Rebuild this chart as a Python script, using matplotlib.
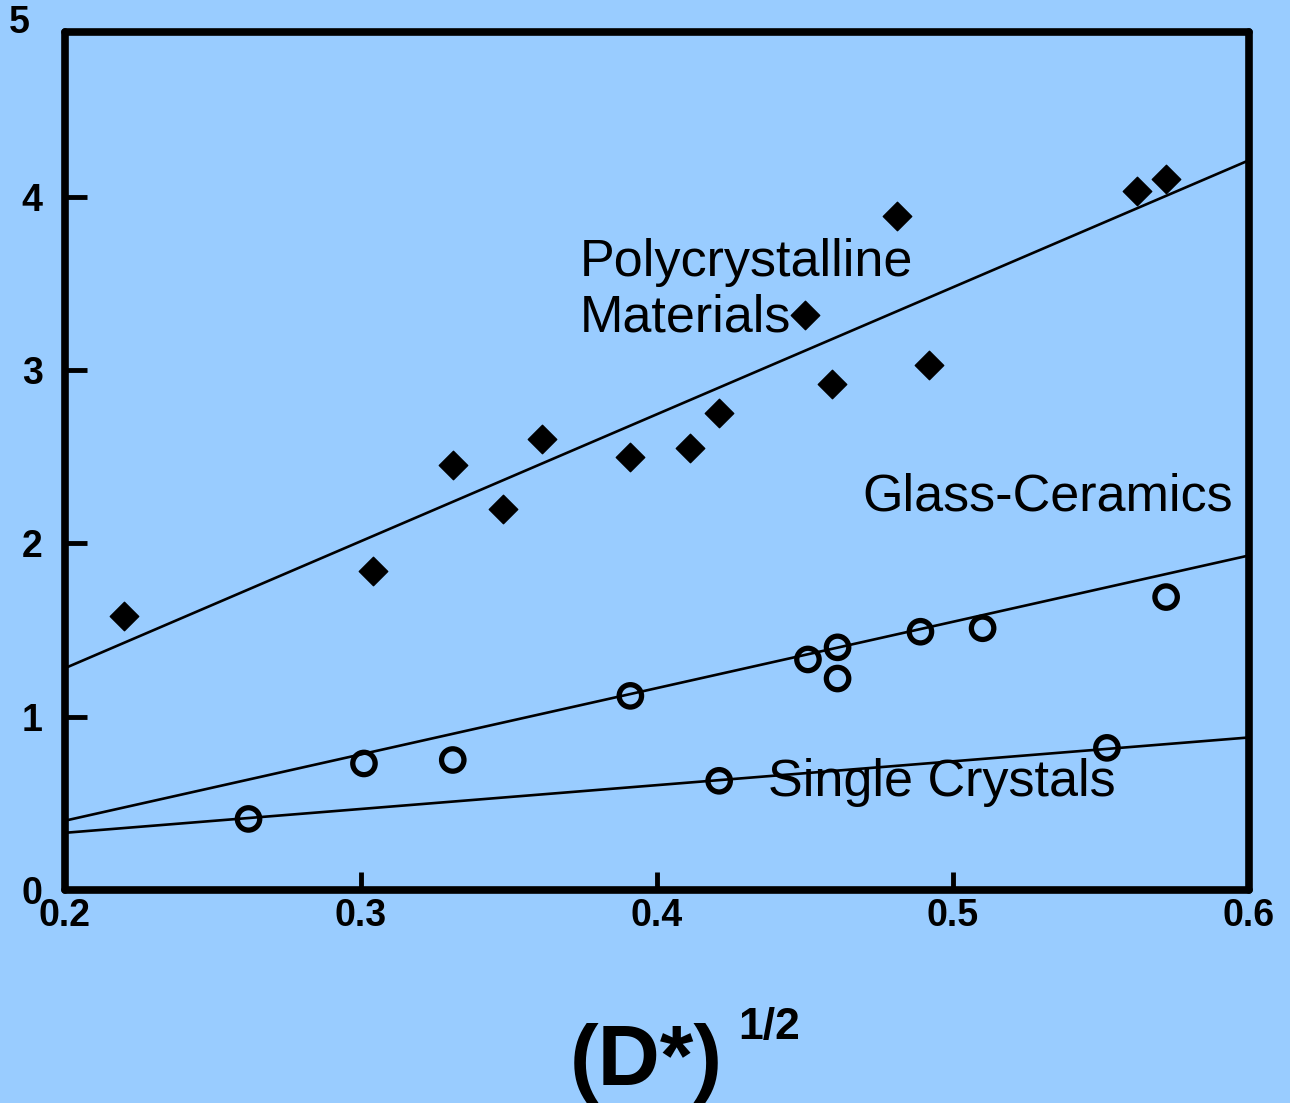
import numpy as np
import matplotlib
matplotlib.use("Agg")
import matplotlib.pyplot as plt

plt.rcParams["font.family"] = ["Liberation Sans", "DejaVu Sans"]

BG = "#99CCFF"

# Polycrystalline materials (diamonds)
poly_x = [0.220, 0.304, 0.331, 0.348, 0.361, 0.391, 0.411, 0.421, 0.450, 0.459, 0.481, 0.492, 0.562, 0.572]
poly_y = [1.58, 1.84, 2.45, 2.20, 2.60, 2.50, 2.55, 2.75, 3.32, 2.92, 3.89, 3.03, 4.03, 4.10]

# Glass-ceramics (open circles)
glass_x = [0.301, 0.331, 0.391, 0.451, 0.461, 0.461, 0.489, 0.510, 0.572]
glass_y = [0.73, 0.75, 1.12, 1.33, 1.40, 1.22, 1.49, 1.51, 1.69]

# Single crystals (open circles)
single_x = [0.262, 0.421, 0.552]
single_y = [0.41, 0.63, 0.82]

# fitted lines as drawn: (value at x=0.2, value at x=0.6)
line_x = [0.2, 0.6]
poly_line = [1.28, 4.21]
glass_line = [0.40, 1.93]
single_line = [0.33, 0.88]

fig = plt.figure(figsize=(12.9, 11.03), dpi=100, facecolor=BG)
ax = fig.add_axes([65 / 1290, 1 - 890 / 1103, (1249 - 65) / 1290, (890 - 32) / 1103])
ax.set_facecolor(BG)

for yl in (poly_line, glass_line, single_line):
    ax.plot(line_x, yl, color="black", lw=1.9, zorder=2)

ax.scatter(poly_x, poly_y, marker="D", s=210, color="black", zorder=3)
ax.scatter(glass_x + single_x, glass_y + single_y, marker="o", s=260,
           facecolors="none", edgecolors="black", linewidths=3.8, zorder=3)

ax.set_xlim(0.2, 0.6)
ax.set_ylim(0, 4.95)
ax.set_xticks([0.2, 0.3, 0.4, 0.5, 0.6])
ax.set_xticklabels(["0.2", "0.3", "0.4", "0.5", "0.6"])
ax.set_yticks([0, 1, 2, 3, 4])
ax.set_yticklabels(["0", "1", "2", "3", "4"])
ax.tick_params(axis="x", direction="in", length=13, width=3.5, pad=6,
               labelsize=27)
ax.tick_params(axis="y", direction="in", length=16, width=3.5, pad=16,
               labelsize=27)
for lab in ax.get_xticklabels() + ax.get_yticklabels():
    lab.set_fontweight("bold")
for sp in ax.spines.values():
    sp.set_linewidth(5.5)
    sp.set_capstyle("round")

ax.text(-0.03, 1.01, "5", transform=ax.transAxes, ha="right", va="center",
        fontsize=27, fontweight="bold")

ax.text(0.374, 3.46, "Polycrystalline\nMaterials", fontsize=37.5, ha="left",
        va="center", linespacing=1.15)
ax.text(0.4695, 2.27, "Glass-Ceramics", fontsize=37.5, ha="left", va="center")
ax.text(0.4375, 0.62, "Single Crystals", fontsize=37.5, ha="left", va="center")

fig.text(570 / 1290, 18 / 1103, "(D*)", fontsize=62, fontweight="bold",
         ha="left", va="baseline")
fig.text(738 / 1290, 1 - 1039 / 1103, "1/2", fontsize=32, fontweight="bold",
         ha="left", va="baseline")

fig.savefig("out.png", dpi=100, facecolor=BG)
